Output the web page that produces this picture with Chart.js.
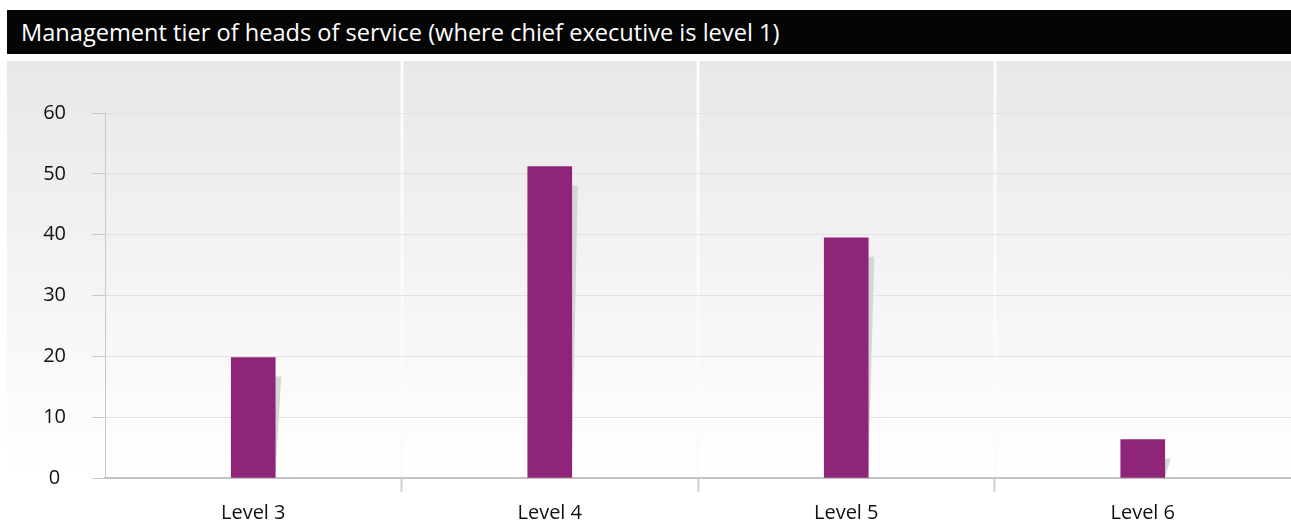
<!DOCTYPE html>
<html>
<head>
<meta charset="utf-8">
<script src="https://cdn.jsdelivr.net/npm/chart.js@4/dist/chart.umd.min.js"></script>
<style>
  html, body { margin: 0; padding: 0; background: #fff; width: 1291px; height: 524px; overflow: hidden; }
  #title {
    position: absolute; left: 7px; top: 10px; width: 1284px; height: 44px;
    background: #050505; color: #fff;
    font-family: "Open Sans", "Noto Sans", sans-serif; font-size: 23.6px;
    line-height: 44px; padding-left: 14px; box-sizing: border-box; white-space: nowrap;
  }
  #wrap {
    position: absolute; left: 7px; top: 61px; width: 1284px; height: 463px; overflow: hidden;
    background: linear-gradient(to bottom, #e8e8e8 0px, #f4f4f4 220px, #ffffff 410px, #ffffff 463px);
  }
  canvas { display: block; }
</style>
</head>
<body>
<div id="title">Management tier of heads of service (where chief executive is level 1)</div>
<div id="wrap"><canvas id="c" width="1284" height="473"></canvas></div>
<script>
const categories = ["Level 3", "Level 4", "Level 5", "Level 6"];
const values = [19.8, 51.2, 39.5, 6.3];
const yTicks = [0, 10, 20, 30, 40, 50, 60];

const separators = {
  id: 'separators',
  beforeDraw(chart) {
    const xs = chart.scales.x, ctx = chart.ctx;
    ctx.save();
    ctx.strokeStyle = '#fbfbfb';
    ctx.lineWidth = 3;
    for (let i = 0; i < categories.length - 1; i++) {
      const bx = Math.round((xs.getPixelForValue(i) + xs.getPixelForValue(i + 1)) / 2);
      ctx.beginPath();
      ctx.moveTo(bx, 0);
      ctx.lineTo(bx, chart.chartArea.bottom);
      ctx.stroke();
    }
    ctx.restore();
  }
};

const barShadow = {
  id: 'barShadow',
  beforeDatasetsDraw(chart) {
    const ctx = chart.ctx;
    const meta = chart.getDatasetMeta(0);
    ctx.save();
    ctx.fillStyle = '#d5d6d6';
    meta.data.forEach(bar => {
      const p = bar.getProps(['x', 'y', 'base', 'width'], true);
      const right = p.x + p.width / 2;
      const top = p.y + 19;
      if (top >= p.base) return;
      ctx.beginPath();
      ctx.moveTo(right, top);
      ctx.lineTo(right + 6, top);
      ctx.lineTo(right, p.base);
      ctx.closePath();
      ctx.fill();
    });
    ctx.restore();
  }
};

new Chart(document.getElementById('c'), {
  type: 'bar',
  data: {
    labels: categories,
    datasets: [{
      data: values,
      backgroundColor: '#8f2579',
      borderWidth: 0,
      barThickness: 44
    }]
  },
  options: {
    responsive: false,
    animation: false,
    devicePixelRatio: 1,
    layout: { padding: { top: 52, right: 0, left: 0, bottom: 0 } },
    plugins: { legend: { display: false }, tooltip: { enabled: false } },
    scales: {
      x: {
        offset: true,
        grid: {
          offset: true,
          drawOnChartArea: false,
          drawTicks: true,
          tickLength: 14,
          tickWidth: 2,
          tickColor: c => (c.type === 'tick' && c.index > 0) ? '#d0d0d0' : 'rgba(0,0,0,0)'
        },
        border: { color: '#c2c2c2', width: 2 },
        ticks: {
          color: '#111',
          padding: 9,
          font: { family: '"Open Sans", "Noto Sans", sans-serif', size: 20 }
        }
      },
      y: {
        min: 0, max: 60,
        afterBuildTicks: s => { s.ticks = yTicks.map(v => ({ value: v })); },
        afterFit: s => { s.width = 98; },
        grid: {
          color: '#e2e2e2',
          lineWidth: 1,
          tickLength: 13,
          tickColor: '#c8c8c8'
        },
        border: { color: '#c8c8c8', width: 1 },
        ticks: {
          color: '#111',
          crossAlign: 'center',
          padding: 26,
          font: { family: '"Open Sans", "Noto Sans", sans-serif', size: 20 }
        }
      }
    }
  },
  plugins: [separators, barShadow]
});
</script>
</body>
</html>
